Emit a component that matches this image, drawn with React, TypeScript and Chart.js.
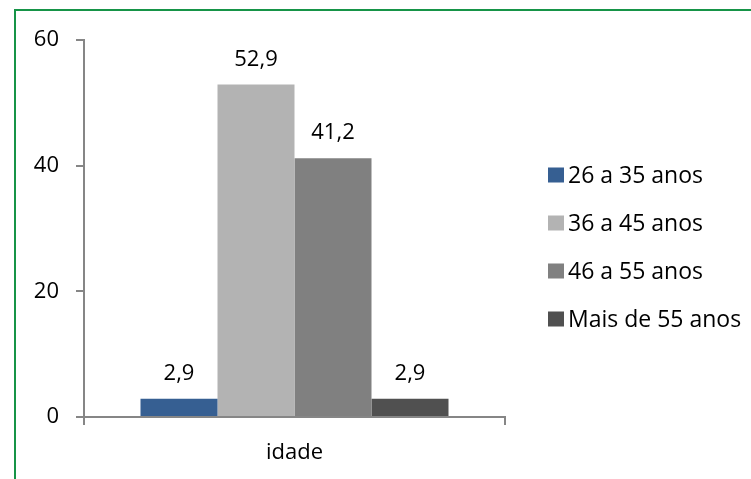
import React, { useEffect, useRef } from "react";
import { Chart, registerables } from "chart.js";

Chart.register(...registerables);

const categories = ["idade"];
const seriesLabels = ["26 a 35 anos", "36 a 45 anos", "46 a 55 anos", "Mais de 55 anos"];
const values26a35 = [2.9];
const values36a45 = [52.9];
const values46a55 = [41.2];
const valuesMais55 = [2.9];
const seriesColors = ["#365F92", "#B3B3B3", "#808080", "#505050"];
const yMin = 0;
const yMax = 60;
const yStep = 20;

const FONT = "'Open Sans', sans-serif";
const AXIS_COLOR = "#868686";

const fmt = (v: number) => v.toFixed(1).replace(".", ",");

const frameAndLabels = {
  id: "frameAndLabels",
  beforeDraw(chart: any) {
    const ctx = chart.ctx;
    ctx.save();
    ctx.fillStyle = "#ffffff";
    ctx.fillRect(0, 0, chart.width, chart.height);
    ctx.strokeStyle = "#169447";
    ctx.lineWidth = 2;
    ctx.beginPath();
    ctx.moveTo(15, chart.height + 5);
    ctx.lineTo(15, 10);
    ctx.lineTo(chart.width + 5, 10);
    ctx.stroke();
    ctx.restore();
  },
  afterDatasetsDraw(chart: any) {
    const ctx = chart.ctx;
    ctx.save();
    ctx.font = `22px ${FONT}`;
    ctx.fillStyle = "#000000";
    ctx.textAlign = "center";
    ctx.textBaseline = "alphabetic";
    chart.data.datasets.forEach((ds: any, i: number) => {
      const meta = chart.getDatasetMeta(i);
      meta.data.forEach((bar: any, j: number) => {
        ctx.fillText(fmt(ds.data[j]), bar.x, bar.y - 19);
      });
    });
    // legend
    const area = chart.chartArea;
    const x0 = area.right + 43;
    const yStart = area.top + 135;
    const rowGap = 48;
    ctx.font = `23px ${FONT}`;
    ctx.textAlign = "left";
    ctx.textBaseline = "middle";
    chart.data.datasets.forEach((ds: any, i: number) => {
      const cy = yStart + i * rowGap;
      ctx.fillStyle = ds.backgroundColor;
      ctx.fillRect(x0, cy - 7.5, 16, 15);
      ctx.fillStyle = "#000000";
      ctx.fillText(ds.label, x0 + 20, cy + 1);
    });
    ctx.restore();
  },
};

export default function App() {
  const ref = useRef<HTMLCanvasElement | null>(null);
  useEffect(() => {
    if (!ref.current) return;
    const chart = new Chart(ref.current, {
      type: "bar",
      data: {
        labels: categories,
        datasets: [
          { label: seriesLabels[0], data: values26a35, backgroundColor: seriesColors[0] },
          { label: seriesLabels[1], data: values36a45, backgroundColor: seriesColors[1] },
          { label: seriesLabels[2], data: values46a55, backgroundColor: seriesColors[2] },
          { label: seriesLabels[3], data: valuesMais55, backgroundColor: seriesColors[3] },
        ],
      },
      options: {
        responsive: false,
        animation: false,
        layout: { padding: { left: 0, top: 40, right: 246, bottom: 0 } },
        datasets: { bar: { categoryPercentage: 0.7316, barPercentage: 1 } },
        plugins: { legend: { display: false }, tooltip: { enabled: false } },
        scales: {
          x: {
            type: "category",
            offset: true,
            grid: {
              display: true,
              drawOnChartArea: false,
              drawTicks: true,
              tickLength: 8,
              color: AXIS_COLOR,
              lineWidth: 2,
              offset: true,
            },
            border: { display: true, color: AXIS_COLOR, width: 2 },
            ticks: { font: { family: FONT, size: 22 }, color: "#000000", padding: 15 },
            afterFit: (s: any) => {
              s.height = 62;
            },
          },
          y: {
            min: yMin,
            max: yMax,
            grid: {
              display: true,
              drawOnChartArea: false,
              drawTicks: true,
              tickLength: 8,
              color: AXIS_COLOR,
              lineWidth: 2,
            },
            border: { display: true, color: AXIS_COLOR, width: 2 },
            ticks: {
              stepSize: yStep,
              font: { family: FONT, size: 22 },
              color: "#000000",
              padding: 17,
            },
            afterFit: (s: any) => {
              s.width = 84;
            },
          },
        },
      },
      plugins: [frameAndLabels],
    } as any);
    return () => chart.destroy();
  }, []);
  return (
    <div style={{ position: "absolute", left: 0, top: 0, width: 751, height: 479, overflow: "hidden" }}>
      <canvas ref={ref} width={751} height={479} style={{ display: "block" }} />
    </div>
  );
}
